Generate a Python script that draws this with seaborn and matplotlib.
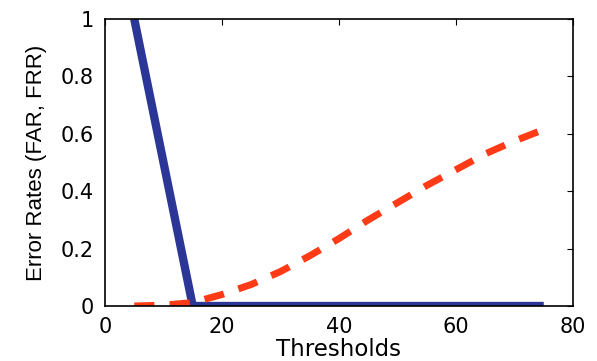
import matplotlib
matplotlib.use("Agg")
import matplotlib.pyplot as plt
import seaborn as sns
import pandas as pd

thresholds = [5, 10, 15, 20, 25, 30, 35, 40, 45, 50, 55, 60, 65, 70, 75]
frr = [1.0, 0.5, 0.0, 0, 0, 0, 0, 0, 0, 0, 0, 0, 0, 0, 0]
far = [0.0, 0.003, 0.012, 0.04, 0.075, 0.12, 0.175, 0.235, 0.30, 0.36, 0.42, 0.475, 0.53, 0.575, 0.615]
x_ticks = [0, 20, 40, 60, 80]
y_ticks = [0, 0.2, 0.4, 0.6, 0.8, 1]
y_tick_labels = ["0", "0.2", "0.4", "0.6", "0.8", "1"]

sns.set_style("white")
plt.rcParams['font.family'] = ['DejaVu Sans']
plt.rcParams['text.color'] = 'black'
plt.rcParams['axes.labelcolor'] = 'black'

fig = plt.figure(figsize=(5.97, 3.61), dpi=100)
ax = fig.add_axes([105/597, 1 - 306/361, (573-105)/597, (306-19)/361])

df_frr = pd.DataFrame({"t": thresholds, "v": frr})
df_far = pd.DataFrame({"t": thresholds, "v": far})
sns.lineplot(data=df_frr, x="t", y="v", ax=ax, color="#2b3696", linewidth=6, solid_capstyle="butt")
sns.lineplot(data=df_far, x="t", y="v", ax=ax, color="#ff3a17", linewidth=5, dashes=False)
ax.lines[-1].set_dashes((2.9, 2.2))

ax.set_xlim(0, 80)
ax.set_ylim(0, 1)
ax.set_xticks(x_ticks)
ax.set_yticks(y_ticks)
ax.set_yticklabels(y_tick_labels)
ax.tick_params(direction="in", length=4, width=0.8, labelsize=15, top=True, right=True, pad=8,
               colors="black", labelcolor="black")
for s in ax.spines.values():
    s.set_visible(True)
    s.set_color("black")
    s.set_linewidth(1.2)
ax.set_xlabel("Thresholds", fontsize=16.5, color="black")
ax.set_ylabel("Error Rates (FAR, FRR)", fontsize=16, family="Liberation Sans", color="black")
ax.xaxis.label.set_va("center")
ax.xaxis.set_label_coords(0.5, -(350 - 306) / 287)
ax.yaxis.label.set_va("center")
ax.yaxis.set_label_coords(-(105 - 36) / 468, 0.5)

fig.savefig("out.png", dpi=100, facecolor="white")
